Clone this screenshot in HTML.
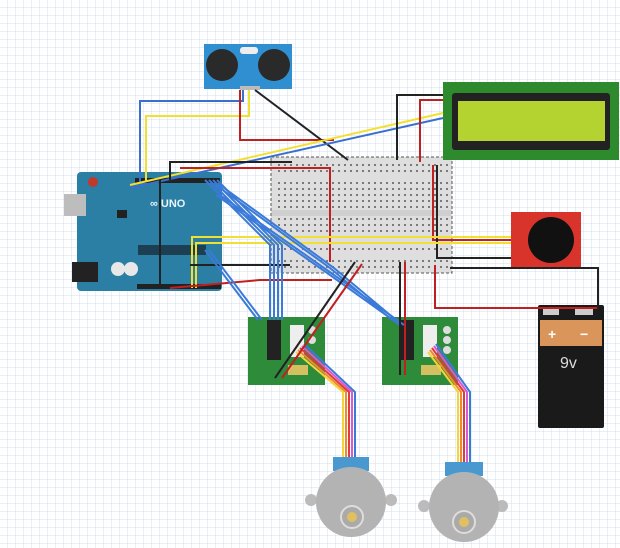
<!DOCTYPE html>
<html><head><style>
html,body{margin:0;padding:0;background:#fff}
svg{display:block}
</style></head><body>
<svg width="620" height="548" viewBox="0 0 620 548" xmlns="http://www.w3.org/2000/svg" font-family="Liberation Sans, sans-serif">
<defs>
<pattern id="g" width="8" height="8" patternUnits="userSpaceOnUse">
<path d="M8 0V8H0" fill="none" stroke="#d2dfec" stroke-width="1"/>
</pattern>
<pattern id="holes" width="6" height="6" patternUnits="userSpaceOnUse">
<rect x="2" y="2" width="2" height="2" fill="#7a7a7a"/>
</pattern>
</defs>
<rect width="620" height="548" fill="#fff"/>
<rect width="620" height="548" fill="url(#g)"/>

<!-- Breadboard -->
<rect x="271" y="157" width="181" height="116" fill="#dedede" stroke="#555" stroke-dasharray="3,2"/>
<rect x="274" y="160" width="175" height="12" fill="url(#holes)"/>
<rect x="274" y="178" width="175" height="30" fill="url(#holes)"/>
<rect x="272" y="210" width="179" height="6" fill="#cfcfcf"/>
<rect x="274" y="218" width="175" height="34" fill="url(#holes)"/>
<rect x="274" y="258" width="175" height="12" fill="url(#holes)"/>

<!-- Arduino -->
<rect x="77" y="172" width="145" height="119" rx="4" fill="#2b7fa4"/>
<rect x="64" y="194" width="22" height="22" fill="#bdbdbd"/>
<rect x="72" y="262" width="26" height="20" fill="#222"/>
<circle cx="93" cy="182" r="5" fill="#c0392b"/>
<rect x="138" y="245" width="68" height="10" fill="#1d3f52"/>
<circle cx="118" cy="269" r="7" fill="#e8e8e8"/><circle cx="131" cy="269" r="7" fill="#e8e8e8"/>
<rect x="135" y="178" width="85" height="5" fill="#222"/>
<rect x="137" y="284" width="84" height="5" fill="#222"/>
<text x="150" y="207" font-size="11" fill="#e8f4fa" font-weight="bold">∞ UNO</text>
<rect x="117" y="210" width="10" height="8" fill="#222"/>

<!-- Ultrasonic -->
<rect x="204" y="44" width="88" height="45" fill="#2f8fd0"/>
<circle cx="222" cy="65" r="16" fill="#2a2a2a"/><circle cx="274" cy="65" r="16" fill="#2a2a2a"/>
<rect x="240" y="47" width="18" height="7" rx="3" fill="#eee"/>
<rect x="240" y="86" width="20" height="4" fill="#bbb"/>

<!-- LCD -->
<rect x="443" y="82" width="176" height="78" fill="#2d8b2d"/>
<rect x="452" y="93" width="158" height="57" rx="3" fill="#222"/>
<rect x="458" y="101" width="147" height="40" fill="#b4d230"/>

<!-- Joystick -->
<rect x="511" y="212" width="70" height="56" fill="#d8342b"/>
<circle cx="551" cy="240" r="23" fill="#111"/>

<!-- Battery -->
<rect x="538" y="305" width="66" height="123" rx="2" fill="#1a1a1a"/>
<rect x="540" y="320" width="62" height="26" fill="#d9955a"/>
<rect x="543" y="309" width="16" height="6" fill="#ccc"/><rect x="575" y="309" width="18" height="6" fill="#ccc"/>
<text x="548" y="339" font-size="14" fill="#fff" font-weight="bold">+</text>
<text x="580" y="339" font-size="14" fill="#fff" font-weight="bold">−</text>
<text x="560" y="368" font-size="16" fill="#ddd">9v</text>

<!-- Drivers -->
<rect x="248" y="317" width="77" height="68" fill="#2e8b3a"/>
<rect x="267" y="320" width="14" height="40" fill="#222"/>
<rect x="290" y="325" width="14" height="32" fill="#eee"/>
<rect x="288" y="365" width="20" height="10" fill="#d4c060"/>
<rect x="382" y="317" width="76" height="68" fill="#2e8b3a"/>
<rect x="400" y="320" width="14" height="40" fill="#222"/>
<rect x="423" y="325" width="14" height="32" fill="#eee"/>
<rect x="421" y="365" width="20" height="10" fill="#d4c060"/>
<circle cx="312" cy="330" r="4" fill="#ddd"/><circle cx="312" cy="340" r="4" fill="#ddd"/>
<circle cx="447" cy="330" r="4" fill="#ddd"/><circle cx="447" cy="340" r="4" fill="#ddd"/><circle cx="447" cy="350" r="4" fill="#ddd"/>

<!-- Motor wires -->
<g fill="none" stroke-width="2">
<path d="M296 352 L343 392 V460" stroke="#f5d43b"/>
<path d="M298 350 L346 392 V460" stroke="#f08a2c"/>
<path d="M300 348 L349 392 V460" stroke="#e03a3a"/>
<path d="M302 346 L352 392 V460" stroke="#d95ad0"/>
<path d="M304 344 L355 392 V460" stroke="#3a7ad8"/>
<path d="M428 352 L458 392 V465" stroke="#f5d43b"/>
<path d="M430 350 L461 392 V465" stroke="#f08a2c"/>
<path d="M432 348 L464 392 V465" stroke="#e03a3a"/>
<path d="M434 346 L467 392 V465" stroke="#d95ad0"/>
<path d="M436 344 L470 392 V465" stroke="#3a7ad8"/>
</g>

<!-- Motors -->
<rect x="333" y="457" width="36" height="14" fill="#4a98d0"/>
<circle cx="311" cy="500" r="6" fill="#bbb"/><circle cx="391" cy="500" r="6" fill="#bbb"/>
<circle cx="351" cy="502" r="35" fill="#b3b3b3"/>
<circle cx="352" cy="517" r="11" fill="#aaa" stroke="#ddd" stroke-width="2"/><circle cx="352" cy="517" r="5" fill="#e0c060"/>
<rect x="445" y="462" width="38" height="14" fill="#4a98d0"/>
<circle cx="424" cy="506" r="6" fill="#bbb"/><circle cx="502" cy="506" r="6" fill="#bbb"/>
<circle cx="464" cy="507" r="35" fill="#b3b3b3"/>
<circle cx="464" cy="522" r="11" fill="#aaa" stroke="#ddd" stroke-width="2"/><circle cx="464" cy="522" r="5" fill="#e0c060"/>

<!-- Wires -->
<g fill="none" stroke-width="2">
<path d="M243 90 V101 H140 V182" stroke="#3a6fd0"/>
<path d="M249 90 V116 H146 V182" stroke="#f2e030"/>
<path d="M240 90 V140 H334" stroke="#c02020"/>
<path d="M255 90 L348 160" stroke="#222"/>
<path d="M130 185 L443 113" stroke="#f2e030"/>
<path d="M130 188 L443 118" stroke="#3a6fd0"/>
<path d="M170 180 V162 H292" stroke="#222"/>
<path d="M180 168 H330 V262" stroke="#c02020"/>
<path d="M443 95 H397 V160" stroke="#222"/>
<path d="M443 100 H420 V162" stroke="#c02020"/>
<path d="M433 165 V240 H511" stroke="#c02020"/>
<path d="M437 165 V258 H511" stroke="#222"/>
<path d="M192 288 V237 H511" stroke="#f2e030"/>
<path d="M196 288 V243 H511" stroke="#f2e030"/>
<path d="M160 180 V288" stroke="#222"/>
<path d="M170 288 L260 280 H332" stroke="#c02020"/>
<path d="M190 265 H290" stroke="#222"/>
<path d="M205 180 L270 245 L270 320" stroke="#3a7ad8"/>
<path d="M209 180 L274 245 L274 320" stroke="#3a7ad8"/>
<path d="M213 180 L278 245 L278 320" stroke="#3a7ad8"/>
<path d="M217 180 L282 245 L282 320" stroke="#3a7ad8"/>
<path d="M205 250 L258 320" stroke="#3a7ad8"/>
<path d="M209 250 L262 320" stroke="#3a7ad8"/>
<path d="M216 185 L330 268 L392 320" stroke="#3a7ad8"/>
<path d="M220 185 L334 268 L396 320" stroke="#3a7ad8"/>
<path d="M216 195 L330 275 L400 325" stroke="#3a7ad8"/>
<path d="M220 195 L334 275 L404 325" stroke="#3a7ad8"/>
<path d="M355 262 L275 378" stroke="#222"/>
<path d="M362 264 L282 378" stroke="#c02020"/>
<path d="M400 262 V375" stroke="#222"/>
<path d="M405 262 V375" stroke="#c02020"/>
<path d="M435 265 V308 H598" stroke="#c02020"/>
<path d="M450 268 H598 V310" stroke="#222"/>
</g>
</svg>
</body></html>
